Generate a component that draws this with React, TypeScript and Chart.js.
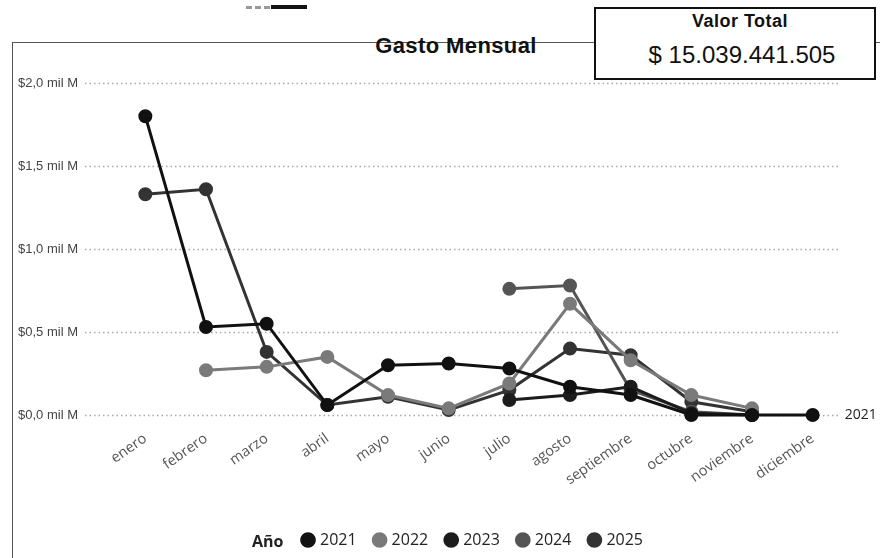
import React, { useEffect, useRef } from "react";
import { Chart, registerables } from "chart.js";

Chart.register(...registerables);

const MONTHS = ["enero", "febrero", "marzo", "abril", "mayo", "junio", "julio", "agosto", "septiembre", "octubre", "noviembre", "diciembre"];
const YEARS = ["2021", "2022", "2023", "2024", "2025"];

const S2021 = [1.8, 0.53, 0.55, 0.06, 0.3, 0.31, 0.28, 0.17, 0.12, 0.0, 0.0, 0.0];
const S2022 = [null, 0.27, 0.29, 0.35, 0.12, 0.04, 0.19, 0.67, 0.33, 0.12, 0.04, null];
const S2023 = [null, null, null, null, null, null, 0.09, 0.12, 0.17, 0.01, 0.0, null];
const S2024 = [null, null, null, null, null, null, 0.76, 0.78, 0.15, 0.02, 0.0, null];
const S2025 = [1.33, 1.36, 0.38, 0.06, 0.11, 0.03, 0.15, 0.4, 0.36, 0.08, 0.02, null];

const SERIES = [S2021, S2022, S2023, S2024, S2025];
const COLORS = ["#111111", "#7a7a7a", "#1c1c1c", "#555555", "#333333"];

const Y_TICKS = [0, 0.5, 1, 1.5, 2];
const Y_TICK_LABELS = ["$0,0 mil M", "$0,5 mil M", "$1,0 mil M", "$1,5 mil M", "$2,0 mil M"];

const TITLE = "Gasto Mensual";
const CARD_LABEL = "Valor Total";
const CARD_VALUE = "$ 15.039.441.505";
const LEGEND_TITLE = "Año";

const FONT = "'Open Sans', 'Liberation Sans', Arial, sans-serif";
const NARROW = "'Liberation Sans Narrow', 'Liberation Sans', Arial, sans-serif";

const gridPlugin = {
  id: "dottedGrid",
  beforeDatasetsDraw(chart: any) {
    const y = chart.scales.y;
    const ctx = chart.ctx;
    ctx.save();
    ctx.strokeStyle = "#a8a8a8";
    ctx.lineWidth = 1.3;
    ctx.setLineDash([1.5, 3]);
    Y_TICKS.forEach((v) => {
      const py = Math.round(y.getPixelForValue(v)) + 0.5;
      ctx.beginPath();
      ctx.moveTo(85, py);
      ctx.lineTo(838, py);
      ctx.stroke();
    });
    ctx.restore();
  },
};

const endLabelPlugin = {
  id: "endLabel",
  afterDatasetsDraw(chart: any) {
    const ds = chart.data.datasets[0];
    const data = ds.data as (number | null)[];
    let idx = -1;
    for (let i = data.length - 1; i >= 0; i--) {
      if (data[i] !== null) { idx = i; break; }
    }
    if (idx < 0) return;
    const pt = chart.getDatasetMeta(0).data[idx];
    const ctx = chart.ctx;
    ctx.save();
    ctx.fillStyle = "#222";
    ctx.font = "14px " + FONT;
    ctx.textAlign = "left";
    ctx.textBaseline = "middle";
    ctx.fillText(ds.label, pt.x + 32, pt.y);
    ctx.restore();
  },
};

const legendShiftPlugin = {
  id: "legendShift",
  afterLayout(chart: any) {
    const lg = chart.legend;
    if (lg) {
      lg.left += 43;
      lg.right += 43;
    }
  },
};

function GastoChart() {
  const ref = useRef<HTMLCanvasElement | null>(null);
  useEffect(() => {
    if (!ref.current) return;
    const chart = new Chart(ref.current, {
      type: "line",
      data: {
        labels: MONTHS,
        datasets: YEARS.map((y, i) => ({
          label: y,
          data: SERIES[i],
          borderColor: COLORS[i],
          backgroundColor: COLORS[i],
          pointBackgroundColor: COLORS[i],
          pointBorderColor: COLORS[i],
          borderWidth: 3,
          pointRadius: 5.5,
          pointHoverRadius: 5.5,
          spanGaps: false,
          tension: 0,
          clip: false as any,
        })),
      },
      options: {
        responsive: false,
        animation: false,
        devicePixelRatio: 1,
        layout: { padding: { left: 18, top: 83, right: 37, bottom: 0 } },
        scales: {
          x: {
            offset: true,
            grid: { display: false, drawTicks: false },
            border: { display: false },
            ticks: {
              color: "#555",
              font: { family: FONT, size: 14.5 },
              maxRotation: 35,
              minRotation: 35,
              padding: 15,
              autoSkip: false,
            },
            afterFit(scale: any) { scale.height = 98; },
          },
          y: {
            min: 0,
            max: 2,
            grid: { display: false, drawTicks: false },
            border: { display: false },
            afterBuildTicks(scale: any) {
              scale.ticks = Y_TICKS.map((v) => ({ value: v }));
            },
            ticks: {
              color: "#444",
              font: { family: NARROW, size: 13 },
              crossAlign: "far",
              callback: (v: any) => {
                const i = Y_TICKS.indexOf(Number(v));
                return i >= 0 ? Y_TICK_LABELS[i] : "";
              },
            },
            afterFit(scale: any) { scale.width = 97; },
          },
        },
        plugins: {
          title: { display: false },
          tooltip: { enabled: false },
          legend: {
            position: "bottom",
            labels: {
              usePointStyle: true,
              pointStyle: "circle",
              boxWidth: 8,
              boxHeight: 9,
              padding: 19,
              color: "#222",
              font: { family: FONT, size: 16 },
              sort: (a: any, b: any) => a.datasetIndex - b.datasetIndex,
            },
          },
        },
      } as any,
      plugins: [gridPlugin, endLabelPlugin, legendShiftPlugin],
    });
    return () => chart.destroy();
  }, []);
  return <canvas ref={ref} width={880} height={558} style={{ position: "absolute", left: 0, top: 0 }} />;
}

export default function App() {
  return (
    <div style={{ position: "relative", width: 880, height: 558, background: "#fff", overflow: "hidden" }}>
      <style>{`body{margin:0;}`}</style>
      <div style={{ position: "absolute", left: 12, top: 42, width: 900, height: 600, borderTop: "1.5px solid #555", borderLeft: "1.5px solid #555" }} />
      <div style={{ position: "absolute", left: 246, top: 6, width: 24, height: 0, borderTop: "3px dashed #999" }} />
      <div style={{ position: "absolute", left: 271, top: 5, width: 36, height: 4, background: "#111" }} />
      <div style={{ position: "absolute", left: 341, top: 33, width: 230, textAlign: "center", fontFamily: NARROW, fontWeight: 700, fontSize: 22, letterSpacing: 0.4, color: "#111" }}>{TITLE}</div>
      <GastoChart />
      <div style={{ position: "absolute", left: 252, top: 530, fontFamily: FONT, fontWeight: 700, fontSize: 16, color: "#222" }}>{LEGEND_TITLE}</div>
      <div style={{ position: "absolute", left: 594, top: 7, width: 278, height: 69, border: "2px solid #111", background: "#fff", fontFamily: NARROW, color: "#111", textAlign: "center" }}>
        <div style={{ fontWeight: 700, fontSize: 18, letterSpacing: 0.5, marginTop: 1, lineHeight: "22px", paddingLeft: 10 }}>{CARD_LABEL}</div>
        <div style={{ fontSize: 24, marginTop: 9, lineHeight: "28px", paddingLeft: 14 }}>{CARD_VALUE}</div>
      </div>
    </div>
  );
}
